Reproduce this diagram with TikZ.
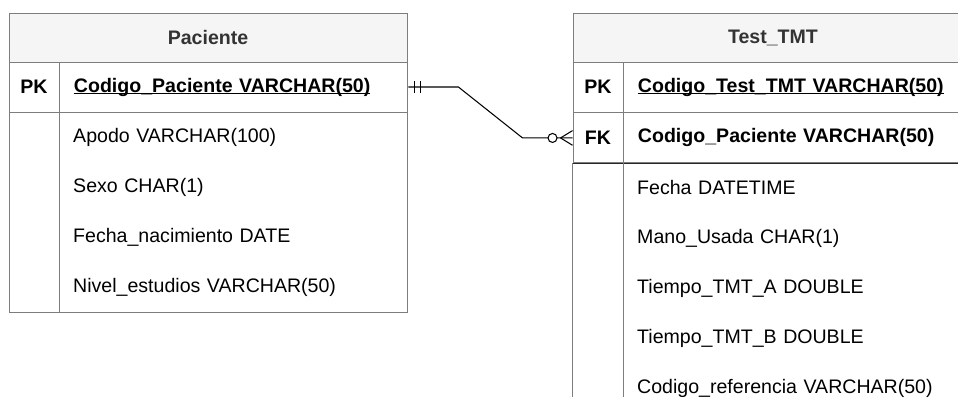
\documentclass[tikz,border=0pt]{standalone}
\usepackage{fontspec}
\setmainfont{Liberation Sans}
\usetikzlibrary{calc,positioning}
\definecolor{tableline}{RGB}{125,125,125}
\definecolor{headfill}{RGB}{245,245,245}
\definecolor{headtext}{RGB}{51,51,51}
% key underline sits on the baseline, descenders cross it
\newcommand{\keyunder}[1]{\underline{\smash{#1}}\vphantom{#1}}

\begin{document}
\begin{tikzpicture}[
  font=\fontsize{16.7}{20}\selectfont,
  cell/.style={
    draw=tableline,
    line width=0.8pt,
    minimum height=1.5cm,
    inner sep=0pt
  },
  header/.style={
    cell,
    fill=headfill,
    minimum height=1.47cm,
    text=headtext,
    font=\fontsize{16.7}{20}\selectfont\bfseries
  },
  keycell/.style={
    cell,
    minimum width=1.5cm,
    font=\fontsize{16.7}{20}\selectfont\bfseries
  },
  field/.style={
    minimum height=1.5cm,
    inner xsep=0.42cm,
    inner ysep=0pt,
    text width=#1,
    align=left
  },
  keyfield/.style={
    cell,
    field=#1,
    font=\fontsize{16.7}{20}\selectfont\bfseries
  },
  relation/.style={
    draw=black,
    line width=0.9pt
  }
]
\useasboundingbox (0,0) rectangle (28.74,-12.15);

% Paciente
\node[header, minimum width=11.94cm] (paciente) at (6.24,-1.125) {Paciente};
\node[keycell] (pacpk) at (1.02,-2.61) {PK};
\node[keyfield=9.6cm, right=0pt of pacpk] (pacpkfield)
  {\keyunder{Codigo\_Paciente VARCHAR(50)}};
\node[cell, minimum width=11.94cm, minimum height=6cm, anchor=north west]
  (pacbody) at (pacpk.south west) {};
\draw[tableline, line width=0.8pt] (pacpk.south east) -- (pacpk.south east |- pacbody.south);

\node[field=9.6cm, anchor=west] (apodo) at (1.77,-4.11) {Apodo VARCHAR(100)};
\node[field=9.6cm, anchor=west] (sexo) at (1.77,-5.61) {Sexo CHAR(1)};
\node[field=9.6cm, anchor=west] (nacimiento) at (1.77,-7.11) {Fecha\_nacimiento DATE};
\node[field=9.6cm, anchor=west] (estudios) at (1.77,-8.61) {Nivel\_estudios VARCHAR(50)};

% Test_TMT
\node[header, minimum width=12cm] (testtmt) at (23.19,-1.125) {Test\_TMT};
\node[keycell] (tmtpk) at (17.94,-2.61) {PK};
\node[keyfield=9.66cm, right=0pt of tmtpk] (tmtpkfield)
  {\keyunder{Codigo\_Test\_TMT VARCHAR(50)}};
\node[keycell, below=0pt of tmtpk] (tmtfk) {FK};
\node[keyfield=9.66cm, right=0pt of tmtfk] (tmtfkfield)
  {Codigo\_Paciente VARCHAR(50)};
\draw[black!85, line width=0.8pt] (tmtfk.south west) -- (tmtfkfield.south east);
\draw[tableline, line width=0.8pt] (tmtfk.south west) -- ++(0,-7.02);
\draw[tableline, line width=0.8pt] (tmtfk.south east) -- ++(0,-7.02);

\node[field=9.66cm, anchor=west] (fecha) at (18.69,-5.64) {Fecha DATETIME};
\node[field=9.66cm, anchor=west] (mano) at (18.69,-7.14) {Mano\_Usada CHAR(1)};
\node[field=9.66cm, anchor=west] (tiempoa) at (18.69,-8.64) {Tiempo\_TMT\_A DOUBLE};
\node[field=9.66cm, anchor=west] (tiempob) at (18.69,-10.14) {Tiempo\_TMT\_B DOUBLE};
\node[field=9.66cm, anchor=west] (referencia) at (18.69,-11.64) {Codigo\_referencia VARCHAR(50)};

% one Paciente -- many Test_TMT
\draw[relation] (pacpkfield.east) -- ++(1.5,0) --
  ($(tmtfk.west)+(-1.5,0)$) -- (tmtfk.west);
\draw[relation] ([xshift=0.18cm]pacpkfield.east) ++(0,0.18) -- ++(0,-0.36);
\draw[relation] ([xshift=0.36cm]pacpkfield.east) ++(0,0.18) -- ++(0,-0.36);
\draw[relation, fill=white] ([xshift=-0.6cm]tmtfk.west) circle (0.135);
\draw[relation] ([xshift=-0.36cm]tmtfk.west) -- ([yshift=0.22cm]tmtfk.west);
\draw[relation] ([xshift=-0.36cm]tmtfk.west) -- ([yshift=-0.22cm]tmtfk.west);

\end{tikzpicture}
\end{document}
